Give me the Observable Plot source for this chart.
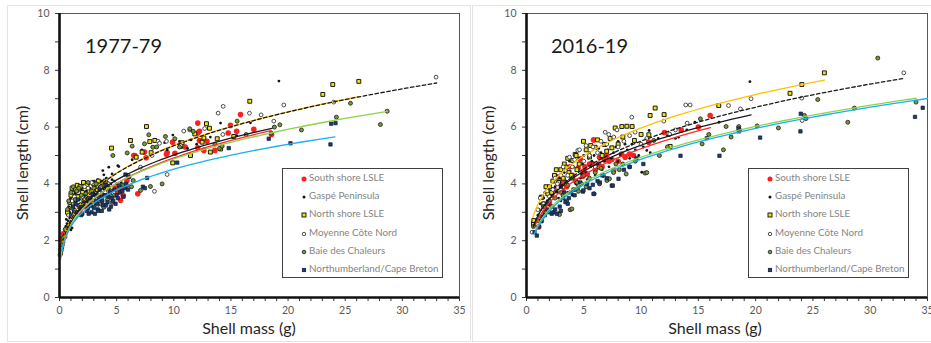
<!DOCTYPE html>
<html>
<head>
<meta charset="utf-8">
<script src="https://cdn.jsdelivr.net/npm/d3@7"></script>
<script src="https://cdn.jsdelivr.net/npm/@observablehq/plot@0.6"></script>
<style>
  body { margin: 0; background: #fff; font-family: Lato, "Open Sans", sans-serif; }
  #fig { position: relative; width: 931px; height: 343px; overflow: hidden; background: #fff; }
  .panel { position: absolute; top: 0; width: 465px; height: 343px; }
  .panel svg { position: absolute; left: 0; top: 0; }
  .border { position: absolute; border: 1.5px solid #e4e4e4; box-sizing: border-box; }
  .title { position: absolute; font-size: 20px; color: #1a1a1a; line-height: 1; }
  .ylab { position: absolute; font-size: 16px; color: #262626; white-space: nowrap; line-height: 1;
          transform: translate(-50%, -50%) rotate(-90deg); }
  .xlab { position: absolute; font-size: 16px; color: #262626; white-space: nowrap; line-height: 1;
          transform: translateX(-50%); }
  .legend { position: absolute; border: 1px solid #404040; background: #fff; box-sizing: border-box; }
  .legend .row { position: absolute; left: 0; font-size: 9.8px; color: #858585; white-space: nowrap; line-height: 1; }
  .legend .row svg { position: absolute; left: 0; top: 0; overflow: visible; }
  .legend .row span { position: absolute; left: 26px; top: -6px; }
</style>
</head>
<body>
<div id="fig"></div>
<script>
// Series names (legend order)
const seriesNames = ["South shore LSLE", "Gaspé Peninsula", "North shore LSLE",
                     "Moyenne Côte Nord", "Baie des Chaleurs", "Northumberland/Cape Breton"];
const periods = ["1977-79", "2016-19"];
const xTicks = d3.range(0, 36, 1);
const yTicks = d3.range(0, 11, 1);

// ---- 1977-79 : [shell mass (g), shell length (cm)]
const south77 = [[0.17,2.07],[0.32,2.24],[0.45,2.15],[0.58,2.36],[0.82,2.48],
  [4.9,3.85],[5.1,3.71],[5.34,3.42],[5.4,3.79],[5.57,3.59],[5.7,3.9],[5.9,4.12],[6.85,3.65],
  [6.5,5.0],[6.59,5.0],[7.44,5.12],[7.58,4.92],[9.36,5.04],[9.42,5.1],[9.9,5.47],[10.1,5.08],[10.59,5.39],
  [11.0,5.3],[12.1,6.14],[12.25,5.85],[12.1,5.79],[12.25,5.53],[12.1,5.27],[12.63,5.18],[12.9,5.5],
  [13.6,5.18],[14.76,5.79],[14.96,6.06],[15.5,5.85],[15.84,6.44],[17.0,5.92],[18.55,5.74]];
const gaspe77 = [[0.3,2.0],[0.4,2.2],[0.5,2.35],[0.55,2.5],[0.65,2.6],[0.75,2.7],[0.9,2.8],[0.6,2.75],
  [1.0,2.38],[1.1,2.45],[0.7,2.9],[0.85,3.1],[1.0,3.3],[0.9,3.0],
  [0.8,3.2],[1.0,3.5],[1.1,3.3],[1.2,3.6],[1.3,3.1],[1.3,3.85],[1.4,3.7],[1.5,3.4],[1.6,3.9],[1.6,3.2],
  [1.7,3.6],[1.8,3.3],[1.9,3.8],[2.0,4.0],[2.1,3.5],[2.2,3.7],[2.3,3.9],[2.4,3.3],[2.5,3.6],[2.6,4.0],
  [2.7,3.8],[2.9,4.1],[3.0,3.7],[3.2,3.9],[3.4,4.0],[3.5,3.6],[3.7,4.1],[3.9,3.8],[4.1,4.2],[4.3,3.9],
  [4.5,4.0],[4.8,4.1],[5.2,3.9],
  [0.95,3.45],[1.05,3.75],[1.15,3.55],[1.25,3.4],[1.35,3.65],[1.45,3.95],[1.55,3.6],[1.65,3.75],
  [1.75,3.45],[1.85,3.95],[1.95,3.6],[2.05,3.85],[2.15,3.3],[2.25,4.05],[2.35,3.75],[2.45,3.95],
  [2.55,3.45],[2.65,3.85],[2.75,4.05],[2.85,3.6],[2.95,3.95],[3.05,4.1],[3.15,3.55],[3.25,3.75],
  [3.35,4.15],[3.45,3.85],[3.6,4.05],[3.8,3.95],[4.0,3.75],[4.2,4.05],[4.4,3.8],[4.6,4.15],[5.0,4.0],
  [5.4,4.05],
  [3.79,4.47],[3.88,4.32],[4.31,4.59],[5.19,4.61],[4.6,4.35],[5.1,4.64],[6.36,4.85],[7.2,5.2],
  [8.1,5.3],[9.2,5.45],[9.42,5.2],[9.92,5.72],[10.5,5.5],[11.2,5.25],[11.5,5.55],[12.0,5.4],
  [13.2,5.65],[14.09,6.14],[15.5,5.7],[16.71,6.15],[18.75,6.02],[19.2,7.62],[24.0,6.88]];
const north77 = [[0.7,3.0],[0.9,3.35],[1.0,3.6],[1.1,3.85],[1.2,3.3],[1.3,3.05],[1.4,3.8],[1.55,3.95],
  [1.6,3.55],[1.8,3.9],[1.9,3.25],[2.0,3.7],[2.1,4.05],[2.2,3.45],[2.3,3.3],[2.4,3.95],[2.6,3.75],
  [2.7,3.25],[2.8,3.55],[2.9,3.3],[3.0,4.0],[3.1,3.6],[3.3,3.8],[3.4,4.1],[3.6,3.9],[3.8,3.65],
  [3.9,3.95],[4.0,4.1],[4.2,3.85],
  [4.55,5.26],[6.21,5.53],[6.71,4.94],[7.23,5.12],[7.61,6.02],[7.9,5.49],[8.02,5.1],[8.34,5.53],
  [9.91,4.74],[10.59,5.32],[10.73,5.45],[11.46,5.0],[11.84,5.76],[12.48,5.47],[12.63,5.62],
  [12.86,6.12],[13.12,5.96],[13.2,5.12],[13.8,5.59],[14.1,5.23],[15.25,5.67],[16.65,6.91],
  [23.04,7.15],[23.91,7.5],[26.19,7.61]];
const moyenne77 = [[0.8,2.9],[1.1,3.4],[1.3,3.55],[1.5,3.75],[1.7,3.0],[2.0,3.55],[2.2,3.9],[2.5,3.85],
  [2.6,3.6],[2.8,4.05],[3.0,3.5],[3.3,3.25],[3.5,3.95],[3.7,3.5],[4.0,3.7],[4.3,4.0],[4.4,3.6],
  [6.0,4.3],[7.09,4.59],[8.1,5.0],[8.31,3.74],[8.63,5.5],[8.75,5.43],[9.36,5.5],[9.42,4.33],
  [10.6,5.35],[10.87,5.86],[11.4,5.9],[12.7,5.95],[13.88,6.49],[14.29,5.74],[14.32,6.73],
  [16.62,6.49],[17.64,6.43],[18.75,6.21],[19.63,6.78],[24.0,6.88],[32.95,7.76]];
const baie77 = [[0.05,1.5],[0.1,1.55],[0.12,1.7],[0.15,1.65],[0.2,1.75],[0.25,1.85],[0.3,1.95],
  [0.35,2.1],[0.5,2.4],
  [0.7,3.1],[0.8,3.4],[1.0,3.7],[1.1,3.15],[1.2,3.9],[1.4,3.45],[1.5,3.75],[1.7,3.85],[1.9,3.6],
  [2.0,3.3],[2.3,3.65],[2.5,4.05],[2.6,3.4],[2.8,3.75],[3.0,3.85],[3.2,4.0],[3.3,3.6],[3.6,3.3],
  [3.9,3.2],[4.0,3.95],[4.2,3.45],[4.5,3.75],[4.6,3.35],[4.8,3.6],[5.3,3.9],[5.6,3.95],[5.9,3.95],
  [6.3,3.9],
  [3.88,3.18],[4.67,5.0],[5.92,5.09],[6.36,5.33],[6.45,4.12],[7.09,3.77],[7.44,5.41],[7.81,5.73],
  [7.96,3.91],[8.17,5.29],[8.5,5.3],[8.98,4.0],[9.27,5.67],[10.09,5.59],[10.5,5.3],[11.4,5.94],
  [11.7,5.85],[13.6,5.4],[14.0,5.25],[14.23,5.33],[15.54,6.21],[16.33,5.74],[18.52,5.79],
  [18.81,6.0],[19.28,6.08],[21.17,5.9],[24.23,6.35],[25.46,6.84],[28.08,6.09],[28.67,6.56]];
const northumb77 = [[1.0,2.9],[1.2,3.2],[1.3,3.0],[1.4,3.3],[1.5,3.0],[1.6,3.45],[1.7,3.25],[1.8,3.1],
  [1.9,2.9],[2.0,2.95],[2.1,3.4],[2.2,3.2],[2.3,3.55],[2.4,3.05],[2.5,3.15],[2.55,2.95],[2.6,3.3],
  [2.7,3.5],[2.75,3.25],[2.8,3.0],[2.9,3.65],[3.0,3.15],[3.1,2.95],[3.15,3.6],[3.2,3.4],[3.3,3.3],
  [3.35,3.1],[3.4,3.05],[3.45,3.45],[3.5,3.8],[3.6,3.5],[3.7,3.05],[3.75,3.4],[3.8,3.25],[3.9,3.6],
  [4.0,3.6],[4.05,3.25],[4.1,3.95],[4.2,3.35],[4.3,3.55],[4.35,3.1],[4.4,3.7],[4.5,3.2],[4.6,3.5],
  [4.7,3.4],[4.8,3.8],[4.9,3.3],[5.0,3.6],[5.1,3.5],[5.2,3.95],[5.3,3.7],[5.5,3.75],[5.6,3.55],
  [5.7,3.85],[5.8,4.0],[6.0,3.8],
  [5.77,4.33],[6.1,4.25],[7.3,3.9],[7.47,3.85],[7.67,4.21],[10.3,4.75],[14.81,5.26],[18.31,5.59],
  [20.21,5.43],[23.71,5.39],[23.77,6.12],[24.15,6.14]];

// ---- 2016-19
const south16 = [[1.05,2.48],[1.3,2.7],[1.6,3.0],[2.0,3.3],[2.2,3.6],[2.4,3.8],[2.73,4.24],[3.0,4.0],
  [3.2,4.15],[3.5,3.9],[3.8,4.6],[4.0,4.3],[4.3,4.1],[4.5,4.55],[4.69,4.88],[4.92,4.27],[5.0,4.45],
  [5.1,4.6],[5.3,4.35],[5.5,4.7],[5.79,4.71],[5.85,5.55],[6.0,4.5],[6.3,4.7],[6.37,4.94],[6.6,4.6],
  [6.8,4.85],[7.0,5.0],[7.2,4.8],[7.45,4.86],[7.6,4.47],[8.0,4.8],[8.3,5.05],[8.61,4.94],[9.0,5.05],
  [9.34,5.0],[10.67,5.47],[12.04,5.81],[13.5,5.9],[15.0,6.0],[16.03,6.41]];
const gaspe16 = [[0.7,2.6],[1.0,2.9],[1.1,3.1],[1.2,3.3],[1.4,3.2],[1.5,3.5],[1.6,3.7],[1.7,3.2],
  [1.8,3.4],[1.92,3.79],[2.0,3.0],[2.1,3.6],[2.2,3.85],[2.36,4.12],[2.5,3.9],[2.6,4.3],[2.7,3.7],
  [2.8,3.5],[2.9,4.2],[3.0,3.4],[3.1,3.95],[3.2,3.8],[3.3,4.4],[3.4,4.55],[3.5,4.1],[3.6,3.7],
  [3.75,4.8],[3.8,4.45],[3.9,4.3],[4.0,3.6],[4.1,4.6],[4.2,4.85],[4.3,4.0],[4.4,4.1],[4.5,4.5],
  [4.6,4.9],[4.7,4.2],[4.8,4.35],[4.9,4.7],[5.0,5.0],[5.2,4.4],[5.3,4.15],[5.4,4.9],[5.5,5.1],
  [5.6,4.6],[5.7,4.8],[5.9,5.0],[6.0,4.3],[6.2,4.7],[6.3,5.25],[6.5,5.1],[6.6,4.5],[6.8,4.8],
  [6.9,5.35],[7.1,5.2],[7.2,4.6],[7.4,4.9],[7.6,5.1],[7.8,5.3],[7.97,4.79],[8.0,5.5],[8.2,5.0],
  [8.4,4.7],[8.6,5.4],[8.8,5.2],[9.0,4.9],[9.2,5.4],[9.5,5.2],[9.8,5.0],[10.06,4.41],[10.2,5.3],
  [10.5,5.18],[10.7,5.88],[10.8,5.1],[11.5,5.6],[12.3,5.7],[12.48,5.7],[13.0,5.6],[13.27,5.64],
  [13.99,5.9],[14.7,6.17],[16.8,6.17],[19.5,7.6]];
const north16 = [[0.6,2.6],[0.64,2.71],[1.28,3.53],[1.34,3.53],[1.5,3.3],[1.7,3.9],[1.86,3.65],
  [2.0,3.9],[2.2,3.7],[2.3,4.1],[2.44,4.3],[2.6,4.5],[2.8,4.05],[3.0,4.5],[3.2,4.2],[3.3,4.7],
  [3.46,4.59],[3.6,4.9],[3.7,4.4],[3.9,4.3],[4.04,4.82],[4.25,5.04],[4.33,5.0],[4.4,4.5],[4.6,4.7],
  [4.97,5.5],[5.21,5.2],[5.5,4.95],[5.6,5.35],[5.99,5.29],[6.2,5.55],[6.37,4.59],[6.6,5.0],
  [6.81,5.39],[7.0,5.15],[7.3,5.6],[7.45,5.27],[7.74,5.97],[8.0,5.4],[8.32,6.02],[8.41,5.65],
  [8.76,6.03],[9.22,6.02],[9.42,5.53],[10.0,5.74],[10.68,5.73],[10.79,6.41],[11.23,6.67],
  [12.01,6.44],[12.54,5.32],[16.78,6.76],[23.0,7.19],[24.03,7.5],[26.0,7.91]];
const moyenne16 = [[0.49,2.3],[0.99,3.09],[1.2,3.5],[1.5,3.3],[1.8,3.75],[2.0,3.55],[2.3,3.8],
  [2.5,4.2],[2.7,4.0],[3.0,4.3],[3.2,4.6],[3.4,4.0],[3.6,4.3],[3.75,4.94],[4.0,4.6],[4.2,4.85],
  [4.48,5.18],[4.63,5.2],[5.0,4.8],[5.2,5.35],[5.5,5.0],[5.8,5.3],[6.0,4.6],[6.2,5.1],[6.5,5.5],
  [6.87,5.82],[7.0,5.4],[7.18,5.74],[7.62,5.65],[7.9,5.9],[8.0,5.3],[8.5,5.5],[9.0,5.7],[9.19,6.35],
  [9.48,5.82],[10.0,5.4],[10.5,5.6],[11.98,6.21],[12.5,5.75],[13.0,5.9],[13.9,6.78],[14.02,6.14],
  [14.28,6.78],[17.63,6.76],[18.67,6.64],[19.6,7.0],[24.03,7.02],[24.06,6.23],[32.93,7.91]];
const baie16 = [[0.6,2.5],[1.0,2.7],[1.2,2.8],[1.5,3.2],[1.7,3.0],[2.0,3.4],[2.2,3.2],[2.5,3.5],
  [2.82,2.95],[2.88,2.92],[3.0,3.7],[3.2,3.6],[3.5,3.4],[3.6,3.95],[3.81,3.09],[3.96,3.12],[4.0,4.2],
  [4.2,3.8],[4.4,4.05],[4.54,3.74],[4.8,4.0],[5.0,4.3],[5.2,3.9],[5.5,4.2],[5.91,3.65],[6.0,4.4],
  [6.37,4.0],[6.5,4.55],[6.7,4.3],[7.02,4.12],[7.24,4.18],[7.6,4.4],[7.8,4.7],[8.1,4.5],[8.4,4.7],
  [8.7,4.35],[9.0,4.6],[9.5,4.8],[10.35,4.38],[10.5,4.4],[11.11,5.53],[11.6,5.0],[12.3,5.3],
  [15.18,6.29],[15.33,5.41],[15.91,5.74],[17.19,5.2],[17.42,6.02],[17.86,5.65],[18.53,6.02],
  [18.6,5.9],[20.13,6.04],[21.99,5.97],[24.26,6.41],[24.4,6.3],[25.42,6.97],[28.04,6.17],
  [28.62,6.67],[30.66,8.43],[34.0,6.88]];
const northumb16 = [[0.7,2.3],[0.9,2.18],[1.1,2.5],[1.3,2.7],[1.4,2.85],[1.6,2.9],[1.8,3.1],[1.9,3.3],
  [2.0,3.0],[2.2,2.95],[2.36,3.0],[2.5,3.1],[2.65,2.95],[2.9,3.2],[3.0,3.05],[3.0,3.9],[3.2,3.5],
  [3.3,3.7],[3.4,3.36],[3.6,3.3],[3.7,3.5],[3.9,3.7],[4.1,3.8],[4.2,3.6],[4.5,3.9],[4.7,4.05],
  [4.92,3.73],[4.97,3.77],[5.3,4.0],[5.5,3.85],[5.79,3.97],[5.85,3.65],[6.2,4.1],[6.4,4.05],[6.6,4.3],
  [7.0,4.2],[7.45,3.94],[7.53,3.94],[8.03,4.18],[8.5,4.5],[9.0,4.6],[9.6,4.9],[10.2,4.7],[13.44,4.99],
  [15.74,5.61],[16.84,4.99],[18.5,5.95],[18.53,5.85],[20.39,5.63],[23.91,5.85],[23.94,6.47],
  [33.91,6.36],[34.58,6.68]];

// Power trendlines  L = a * M^b  over [from, to] (one entry per series, legend order)
const fitA77 = [2.52, 2.65, 2.76, 2.74, 2.56, 2.505];
const fitB77 = [0.29, 0.277, 0.288, 0.29, 0.28, 0.256];
const fitFrom77 = [0.3, 0.15, 0.15, 0.15, 0.1, 0.2];
const fitTo77 = [18.5, 18.6, 26.2, 33.0, 28.7, 24.1];
const fitA16 = [2.75, 2.88, 3.28, 2.87, 2.55, 2.49];
const fitB16 = [0.28, 0.27, 0.26, 0.283, 0.287, 0.291];
const fitFrom16 = [0.8, 0.6, 0.56, 0.6, 0.8, 0.7];
const fitTo16 = [16.06, 19.6, 26.0, 32.85, 34.0, 35.0];

// Marker and trendline styles per series
const markers = [
  {symbol: "circle", r: 2.8, fill: "#ff1f1f", stroke: "none", strokeWidth: 0},
  {symbol: "circle", r: 1.4, fill: "#151515", stroke: "none", strokeWidth: 0},
  {symbol: "square", r: 2.2, fill: "#f2e600", stroke: "#1a1a1a", strokeWidth: 1},
  {symbol: "circle", r: 1.9, fill: "#ffffff", stroke: "#3a3a3a", strokeWidth: 0.9},
  {symbol: "circle", r: 2.0, fill: "#789b34", stroke: "#1a1a1a", strokeWidth: 0.8},
  {symbol: "square", r: 1.9, fill: "#1f3b6e", stroke: "#0d1a33", strokeWidth: 0.7}
];
const lineStyles = [
  {stroke: "#ff2a2a"}, {stroke: "#1a1a1a"}, {stroke: "#ffc000"},
  {stroke: "#1a1a1a", strokeDasharray: "3.5,2.5"}, {stroke: "#8fd14f"}, {stroke: "#1ab0ee"}
];

function powerCurve(a, b, x0, x1) {
  const n = 80;
  return d3.range(n).map(i => {
    const x = x0 * Math.pow(x1 / x0, i / (n - 1));
    return [x, a * Math.pow(x, b)];
  });
}

function chart(series, A, B, from, to, marginLeft, marginRight) {
  const marks = [
    Plot.frame({stroke: "#595959", strokeWidth: 1}),
    Plot.axisX({ticks: xTicks, tickFormat: d => d % 5 === 0 ? d : "", tickSize: 4, tickPadding: 5,
                label: null, stroke: "#333", fill: "#595959"}),
    Plot.axisY({ticks: yTicks, tickFormat: d => d % 2 === 0 ? d : "", tickSize: 4, tickPadding: 6,
                label: null, stroke: "#333", fill: "#595959"})
  ];
  series.forEach((data, i) => {
    const m = markers[i];
    marks.push(Plot.dot(data, {x: d => d[0], y: d => d[1], symbol: m.symbol, r: m.r,
      fill: m.fill, stroke: m.stroke, strokeWidth: m.strokeWidth}));
  });
  series.forEach((data, i) => {
    marks.push(Plot.line(powerCurve(A[i], B[i], from[i], to[i]),
      {x: d => d[0], y: d => d[1], strokeWidth: 1.3, ...lineStyles[i]}));
  });
  marks.push(Plot.ruleX([0], {stroke: "#111", strokeWidth: 2.6}));
  marks.push(Plot.ruleY([0], {stroke: "#111", strokeWidth: 2.6}));
  return Plot.plot({
    width: 465, height: 343,
    marginLeft, marginRight, marginTop: 13, marginBottom: 46,
    x: {domain: [0, 35]},
    y: {domain: [0, 10]},
    style: {fontFamily: "Lato, 'Open Sans', sans-serif", fontSize: "10.5px", background: "transparent"},
    marks
  });
}

function legend(left) {
  const box = document.createElement("div");
  box.className = "legend";
  Object.assign(box.style, {left: left + "px", top: "168px", width: "161px", height: "110px"});
  seriesNames.forEach((name, i) => {
    const row = document.createElement("div");
    row.className = "row";
    row.style.top = (10 + i * 18.2) + "px";
    const m = markers[i];
    const s = Math.max(m.r, 1.7) * 0.9;
    const shape = m.symbol === "square"
      ? `<rect x="${21 - s}" y="${-s}" width="${2 * s}" height="${2 * s}" fill="${m.fill}" stroke="${m.stroke}" stroke-width="${m.strokeWidth}"/>`
      : `<circle cx="21" cy="0" r="${s}" fill="${m.fill}" stroke="${m.stroke}" stroke-width="${m.strokeWidth}"/>`;
    row.innerHTML = `<svg width="1" height="1">${shape}</svg><span>${name}</span>`;
    box.appendChild(row);
  });
  return box;
}

const fig = document.getElementById("fig");
const panels = [
  {left: 0, series: [south77, gaspe77, north77, moyenne77, baie77, northumb77],
   A: fitA77, B: fitB77, from: fitFrom77, to: fitTo77, ml: 59, mr: 6, border: [7, 5, 464, 337]},
  {left: 466, series: [south16, gaspe16, north16, moyenne16, baie16, northumb16],
   A: fitA16, B: fitB16, from: fitFrom16, to: fitTo16, ml: 60, mr: 4, border: [6, 5, 470, 337]}
];
panels.forEach((p, k) => {
  const div = document.createElement("div");
  div.className = "panel";
  div.style.left = p.left + "px";
  const b = document.createElement("div");
  b.className = "border";
  Object.assign(b.style, {left: p.border[0] + "px", top: p.border[1] + "px",
                          width: p.border[2] + "px", height: p.border[3] + "px"});
  div.appendChild(b);
  div.appendChild(chart(p.series, p.A, p.B, p.from, p.to, p.ml, p.mr));
  const t = document.createElement("div");
  t.className = "title";
  t.textContent = periods[k];
  Object.assign(t.style, {left: "85px", top: "35px"});
  div.appendChild(t);
  const yl = document.createElement("div");
  yl.className = "ylab";
  yl.textContent = "Shell length (cm)";
  Object.assign(yl.style, {left: "22px", top: "163px"});
  div.appendChild(yl);
  const xl = document.createElement("div");
  xl.className = "xlab";
  xl.textContent = "Shell mass (g)";
  Object.assign(xl.style, {left: "249px", top: "320px"});
  div.appendChild(xl);
  div.appendChild(legend(282));
  fig.appendChild(div);
});
</script>
</body>
</html>
